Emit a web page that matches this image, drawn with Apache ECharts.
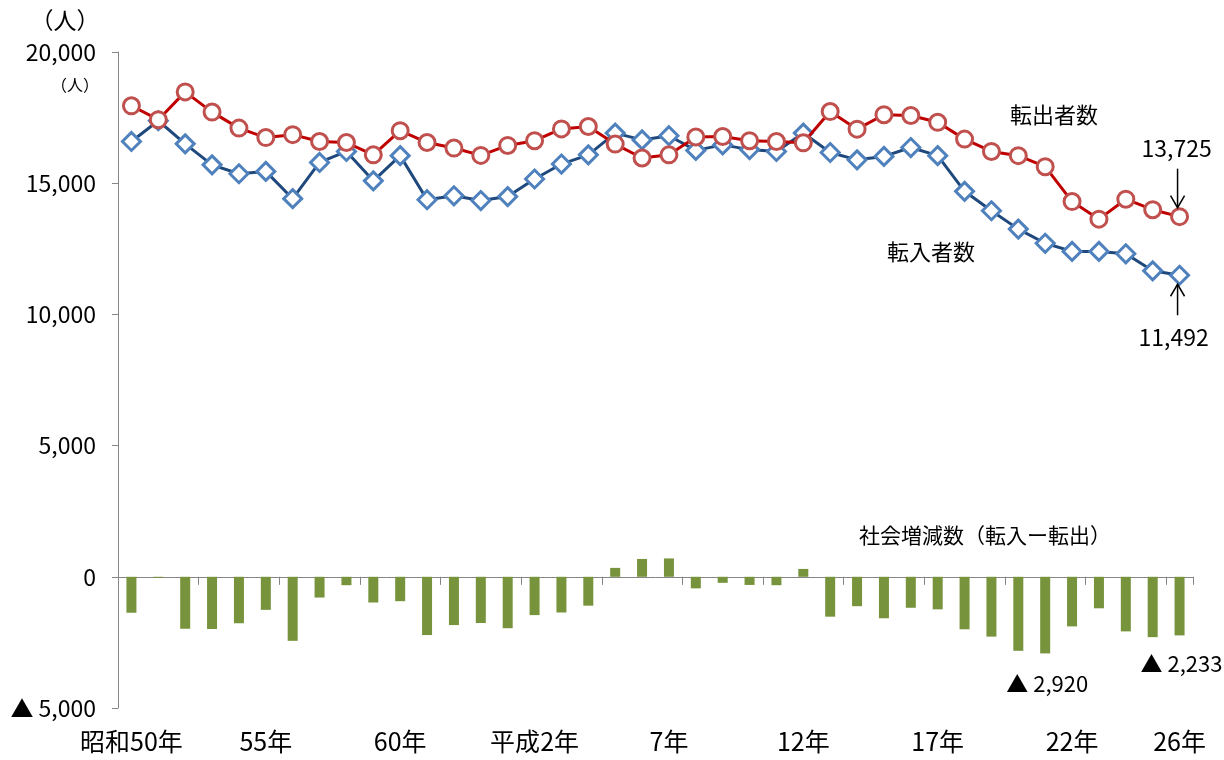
<!DOCTYPE html>
<html lang="ja">
<head>
<meta charset="UTF-8">
<title>転入者数・転出者数の推移</title>
<script src="https://cdn.jsdelivr.net/npm/echarts@6/dist/echarts.min.js"></script>
<style>
html, body { margin: 0; padding: 0; background: #fff; }
#chart { width: 1224px; height: 760px; }
</style>
</head>
<body>
<div id="chart"></div>
<script>
// 昭和50年(1975) ～ 平成26年(2014)
const years = [
  '昭和50年', '51年', '52年', '53年', '54年', '55年', '56年', '57年', '58年', '59年',
  '60年', '61年', '62年', '63年', '平成元年', '平成2年', '3年', '4年', '5年', '6年',
  '7年', '8年', '9年', '10年', '11年', '12年', '13年', '14年', '15年', '16年',
  '17年', '18年', '19年', '20年', '21年', '22年', '23年', '24年', '25年', '26年'
];
const labelIndex = [0, 5, 10, 15, 20, 25, 30, 35, 39];

const tenshutsu = [
  17950, 17420, 18480, 17710, 17100, 16740, 16850, 16590, 16550, 16080,
  17000, 16550, 16340, 16060, 16440, 16620, 17070, 17160, 16490, 15960,
  16080, 16760, 16780, 16620, 16590, 16540, 17730, 17060, 17610, 17580,
  17320, 16680, 16210, 16050, 15630, 14300, 13630, 14390, 13990, 13725
];
const tennyu = [
  16590, 17380, 16500, 15700, 15360, 15450, 14410, 15790, 16210, 15090,
  16050, 14370, 14520, 14340, 14490, 15160, 15730, 16080, 16910, 16650,
  16810, 16250, 16460, 16280, 16210, 16910, 16170, 15890, 16020, 16360,
  16050, 14690, 13950, 13250, 12710, 12400, 12400, 12310, 11660, 11492
];
const zougen = [
  -1370, -40, -1980, -1990, -1770, -1260, -2440, -790, -320, -980,
  -930, -2220, -1840, -1760, -1960, -1460, -1360, -1100, 340, 680,
  700, -440, -230, -310, -320, 300, -1520, -1120, -1580, -1180,
  -1240, -2000, -2280, -2820, -2920, -1890, -1200, -2080, -2300, -2233
];

const FONT = '"Noto Sans CJK JP", "Noto Sans", sans-serif';
const AXIS_GRAY = '#868686';

const fmt = (v) => v.toLocaleString('en-US');

const chart = echarts.init(document.getElementById('chart'));

chart.setOption({
  animation: false,
  grid: { left: 118, right: 31, top: 52, bottom: 52 },
  xAxis: [
    {
      type: 'category',
      data: years,
      axisLine: { onZero: true, lineStyle: { color: AXIS_GRAY, width: 1 } },
      axisTick: { show: true, length: 8, lineStyle: { color: AXIS_GRAY } },
      axisLabel: { show: false }
    },
    {
      type: 'category',
      data: years,
      position: 'bottom',
      axisLine: { show: false, onZero: false },
      axisTick: { show: false },
      axisLabel: {
        interval: (i) => labelIndex.indexOf(i) >= 0,
        margin: 21,
        color: '#000',
        fontSize: 25,
        fontFamily: FONT
      }
    }
  ],
  yAxis: {
    type: 'value',
    min: -5000,
    max: 20000,
    interval: 5000,
    splitLine: { show: false },
    axisLine: { show: true, lineStyle: { color: AXIS_GRAY, width: 1 } },
    axisTick: { show: true, length: 6, lineStyle: { color: AXIS_GRAY } },
    axisLabel: {
      margin: 22,
      color: '#000',
      fontSize: 23,
      fontFamily: FONT,
      formatter: (v) => (v < 0 ? '▲ ' + fmt(-v) : fmt(v))
    }
  },
  series: [
    {
      name: '社会増減数',
      type: 'bar',
      data: zougen,
      barWidth: 10,
      itemStyle: { color: '#77933C' },
      z: 1
    },
    {
      name: '転入者数',
      type: 'line',
      data: tennyu,
      symbol: 'diamond',
      symbolSize: 18,
      showAllSymbol: true,
      lineStyle: { color: '#1F497D', width: 3 },
      itemStyle: { color: '#fff', borderColor: '#4F81BD', borderWidth: 3 },
      z: 3
    },
    {
      name: '転出者数',
      type: 'line',
      data: tenshutsu,
      symbol: 'circle',
      symbolSize: 16,
      showAllSymbol: true,
      lineStyle: { color: '#C00000', width: 3 },
      itemStyle: { color: '#fff', borderColor: '#C0504D', borderWidth: 3 },
      z: 4
    }
  ]
});

// 注記（位置はデータから求める）
const px = (i, v) => chart.convertToPixel({ xAxisIndex: 0, yAxisIndex: 0 }, [i, v]);
const last = years.length - 1;
const pOut = px(last, tenshutsu[last]);
const pIn = px(last, tennyu[last]);
const iMin = zougen.indexOf(Math.min(...zougen));
const pMin = px(iMin, zougen[iMin]);
const pLast = px(last, zougen[last]);

const text = (x, y, s, size) => ({
  type: 'text', x: x, y: y, z: 10,
  style: { text: s, fontSize: size, fontFamily: FONT, fill: '#000', align: 'center', verticalAlign: 'middle' }
});
const arrow = (x, y0, y1) => {
  const d = y1 > y0 ? -1 : 1;
  return [
    { type: 'line', z: 10, shape: { x1: x, y1: y0, x2: x, y2: y1 }, style: { stroke: '#000', lineWidth: 1.5 } },
    { type: 'polyline', z: 10, shape: { points: [[x - 7, y1 + d * 12], [x, y1], [x + 7, y1 + d * 12]] }, style: { stroke: '#000', lineWidth: 1.5, fill: null } }
  ];
};

chart.setOption({
  graphic: [
    text(65, 20, '（人）', 23),
    text(75, 85, '（人）', 16),
    text(1054, 115, '転出者数', 22),
    text(931, 252, '転入者数', 22),
    text(985, 535, '社会増減数（転入ー転出）', 21),
    text(pOut[0] - 3, pOut[1] - 68, fmt(tenshutsu[last]), 23),
    text(pIn[0] - 6, pIn[1] + 62, fmt(tennyu[last]), 23),
    text(pMin[0] + 2, pMin[1] + 30, '▲ ' + fmt(-zougen[iMin]), 22),
    text(pLast[0] + 2, pLast[1] + 28, '▲ ' + fmt(-zougen[last]), 22),
    ...arrow(pOut[0] - 2, pOut[1] - 48, pOut[1] - 9),
    ...arrow(pIn[0] - 2, pIn[1] + 40, pIn[1] + 9)
  ]
});
</script>
</body>
</html>
